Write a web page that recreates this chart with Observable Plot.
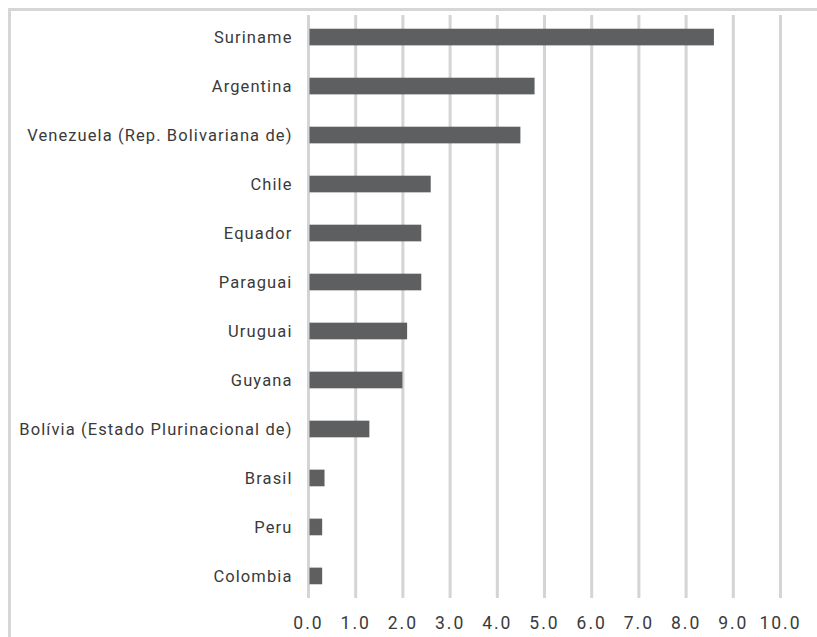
<!DOCTYPE html>
<html>
<head>
<meta charset="utf-8">
<script src="https://cdn.jsdelivr.net/npm/d3@7"></script>
<script src="https://cdn.jsdelivr.net/npm/@observablehq/plot@0.6"></script>
<style>
  html, body { margin: 0; padding: 0; background: #fff; }
  #frame {
    position: absolute; left: 8px; top: 8px; width: 820px; height: 640px;
    border-left: 3px solid #d6d6d6; border-top: 3px solid #d6d6d6;
  }
  #chart { position: absolute; left: 0; top: 0; }
  #chart svg { font-family: Roboto, "DejaVu Sans", sans-serif; }
</style>
</head>
<body>
<div id="frame"></div>
<div id="chart"></div>
<script>
// Countries, top to bottom, and their values
const countries = [
  "Suriname", "Argentina", "Venezuela (Rep. Bolivariana de)", "Chile", "Equador",
  "Paraguai", "Uruguai", "Guyana", "Bolívia (Estado Plurinacional de)",
  "Brasil", "Peru", "Colombia"
];
const values = [8.6, 4.8, 4.5, 2.6, 2.4, 2.4, 2.1, 2.0, 1.3, 0.35, 0.3, 0.3];
const ticks = [0, 1, 2, 3, 4, 5, 6, 7, 8, 9, 10];

const data = countries.map((country, i) => ({country, value: values[i]}));

const chart = Plot.plot({
  width: 817,
  height: 637,
  marginLeft: 308,
  marginRight: 37,
  marginTop: 15,
  marginBottom: 39,
  style: {background: "transparent", color: "#3a3a3a"},
  x: {domain: [0, 10], ticks: ticks},
  y: {domain: countries, paddingInner: 0.66, paddingOuter: 0.28, round: false, label: null},
  marks: [
    Plot.ruleX(ticks, {stroke: "#d4d4d4", strokeWidth: 3, strokeOpacity: 1}),
    Plot.barX(data, {x: "value", y: "country", fill: "#5e5f61", insetLeft: 1.5}),
    Plot.axisY({tickSize: 0, tickPadding: 16, label: null, fontSize: 16.5, fill: "#3a3a3a", className: "ylab"}),
    Plot.axisX({ticks: ticks, tickSize: 0, tickPadding: 18, label: null, tickFormat: d => d.toFixed(1), fontSize: 17.5, fill: "#3a3a3a", className: "xlab"})
  ]
});
d3.select(chart).selectAll(".ylab text").style("letter-spacing", "1.1px");
d3.select(chart).selectAll(".xlab text").style("letter-spacing", "2px");
document.getElementById("chart").appendChild(chart);
</script>
</body>
</html>
